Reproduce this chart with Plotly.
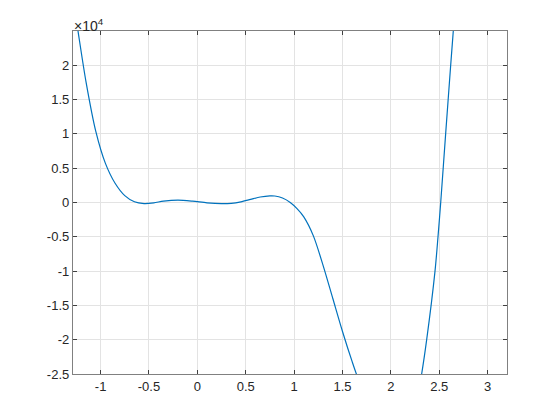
import plotly.graph_objects as go

# Curve samples (x, y in units of 1e4)
x_vals = [-1.27, -1.23, -1.15, -1.05, -0.95, -0.85, -0.75, -0.65, -0.55,
          -0.45, -0.35, -0.2, -0.05, 0.1, 0.25, 0.35, 0.45, 0.55, 0.65,
          0.75, 0.8, 0.88, 0.96, 1.03, 1.1, 1.2, 1.3, 1.4, 1.5, 1.6,
          1.7, 1.85, 2.0, 2.15, 2.26, 2.318, 2.37, 2.456, 2.487, 2.515,
          2.566, 2.618, 2.645, 2.675]
y_vals_e4 = [2.85, 2.47, 1.755, 1.04, 0.57, 0.28, 0.10, 0.01, -0.015,
             -0.005, 0.02, 0.035, 0.02, -0.005, -0.017, -0.012, 0.01, 0.045, 0.08,
             0.097, 0.095, 0.065, 0.0, -0.09, -0.21, -0.49, -0.92, -1.40, -1.88, -2.32,
             -2.72, -3.2, -3.4, -3.25, -2.95, -2.5, -2.0, -1.0, -0.5, 0.0,
             1.0, 2.0, 2.5, 3.05]
y_vals = [v * 1e4 for v in y_vals_e4]

x_ticks = [-1, -0.5, 0, 0.5, 1, 1.5, 2, 2.5, 3]
x_tick_labels = ["-1", "-0.5", "0", "0.5", "1", "1.5", "2", "2.5", "3"]
y_ticks = [-25000, -20000, -15000, -10000, -5000, 0, 5000, 10000, 15000, 20000]
y_tick_labels = ["-2.5", "-2", "-1.5", "-1", "-0.5", "0", "0.5", "1", "1.5", "2"]

fig = go.Figure()
fig.add_trace(go.Scatter(
    x=x_vals, y=y_vals, mode="lines",
    line=dict(color="#0072BD", width=1.2, shape="spline", smoothing=0.8),
    showlegend=False, hoverinfo="skip",
))

axis_color = "#808080"
font_family = "Liberation Sans, Arial, sans-serif"
common = dict(
    showline=True, linecolor=axis_color, linewidth=1.3, mirror="ticks",
    ticks="inside", ticklen=4, tickcolor="#404040", tickwidth=1,
    showgrid=True, gridcolor="#e3e3e3", gridwidth=1, zeroline=False,
    tickfont=dict(family=font_family, size=13, color="#262626"),
)
fig.update_xaxes(range=[-1.285, 3.2], tickvals=x_ticks, ticktext=x_tick_labels, **common)
fig.update_yaxes(range=[-25000, 25000], tickvals=y_ticks, ticktext=y_tick_labels, **common)

fig.add_annotation(
    xref="paper", yref="paper", x=0.0, y=1.0, xanchor="left", yanchor="bottom",
    text="×10<sup>4</sup>", showarrow=False,
    font=dict(family=font_family, size=14, color="#262626"),
    xshift=-1, yshift=-5,
)

# page body has an 8px default margin, so offsets are compensated here
fig.update_layout(
    width=560, height=420,
    margin=dict(l=65, r=61, t=23, b=54, pad=0),
    paper_bgcolor="white", plot_bgcolor="white",
)
fig.write_html("out.html")
